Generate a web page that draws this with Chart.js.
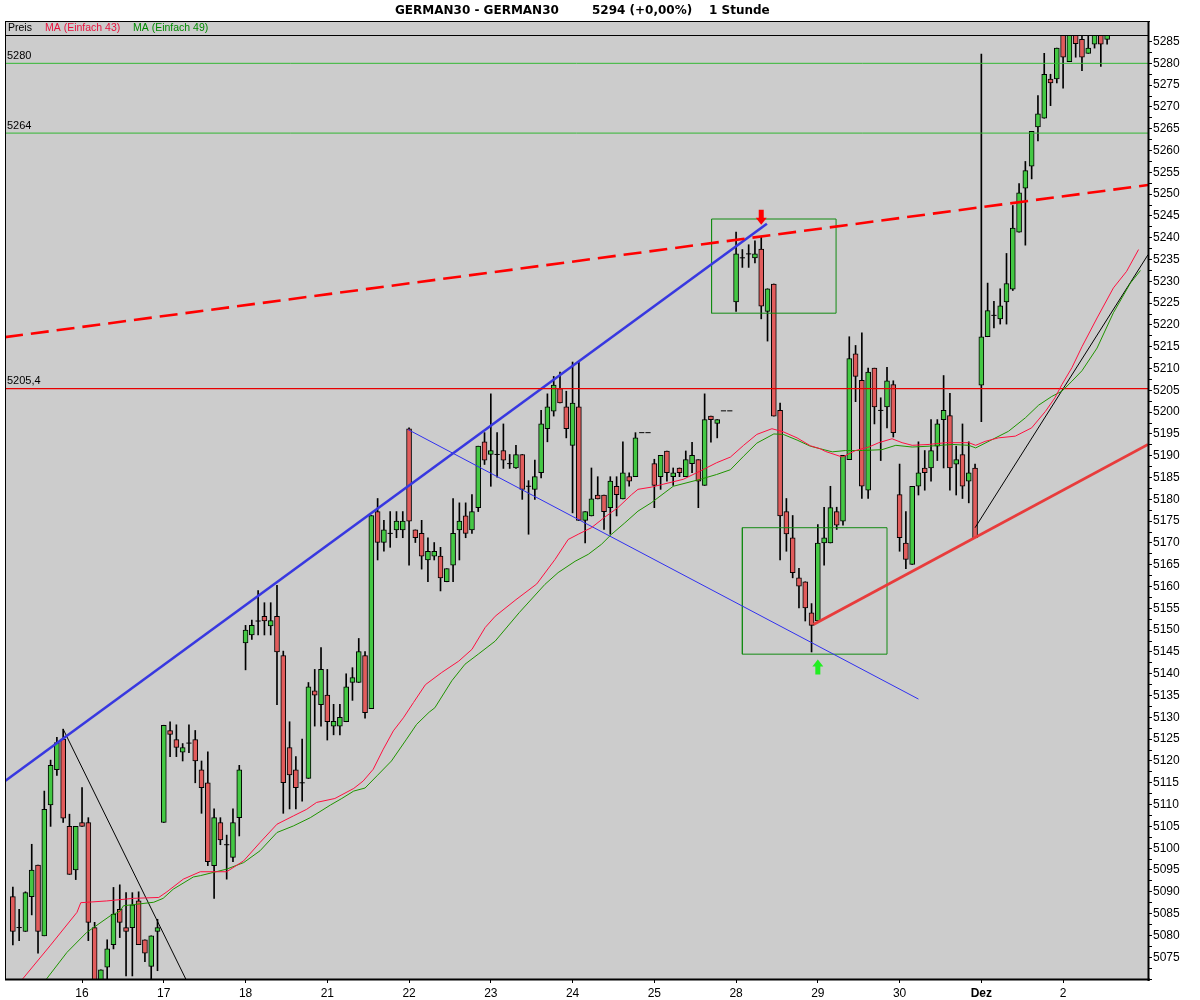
<!DOCTYPE html>
<html>
<head>
<meta charset="utf-8">
<title>GERMAN30 - 1 Stunde</title>
<script src="https://cdn.jsdelivr.net/npm/chart.js@4.4.1/dist/chart.umd.min.js"></script>
<style>
  html, body { margin: 0; padding: 0; background: #fff; }
  canvas { display: block; }
</style>
</head>
<body>
<canvas id="chart" width="1200" height="1000"></canvas>
<script>
// hourly candles, index 0 = first visible hour (15th, afternoon)
const opens = [
  5088.9, 5081.8, 5080.9, 5088.9, 5096.1, 5079.9, 5109.9, 5118.0, 5125.0, 5105.0,
  5095.0, 5105.9, 5105.9, 5081.8, 5068.0, 5072.7, 5077.9, 5086.0, 5081.8, 5081.8,
  5087.9, 5079.0, 5072.9, 5080.9, 5105.9, 5127.0, 5124.9, 5122.0, 5124.1, 5124.9,
  5118.0, 5115.0, 5096.0, 5105.9, 5100.8, 5097.9, 5107.0, 5147.1, 5148.9, 5152.1,
  5153.2, 5151.0, 5153.2, 5144.2, 5123.1, 5118.0, 5115.0, 5116.0, 5136.1, 5132.9,
  5135.1, 5128.0, 5128.0, 5129.0, 5138.0, 5138.0, 5144.2, 5132.0, 5177.2, 5170.1,
  5172.2, 5173.0, 5173.0, 5196.2, 5173.0, 5172.2, 5166.1, 5167.0, 5167.0, 5161.1,
  5164.9, 5173.0, 5176.2, 5173.0, 5178.1, 5193.2, 5190.3, 5190.3, 5191.2, 5188.2,
  5187.2, 5190.3, 5183.0, 5182.3, 5186.1, 5196.2, 5200.2, 5205.4, 5201.2, 5192.4,
  5201.2, 5175.2, 5176.2, 5181.0, 5181.0, 5178.1, 5183.0, 5180.1, 5185.2, 5185.2,
  5195.3, 5195.3, 5188.2, 5185.2, 5191.1, 5185.2, 5187.2, 5185.2, 5188.2, 5189.1,
  5183.2, 5199.1, 5197.4, 5200.3, 5200.3, 5225.3, 5235.4, 5236.3, 5235.4, 5237.4,
  5223.1, 5229.4, 5200.4, 5177.2, 5171.2, 5162.0, 5161.1, 5154.0, 5152.1, 5170.0,
  5170.0, 5177.2, 5175.0, 5189.1, 5213.4, 5207.3, 5182.1, 5210.1, 5200.4, 5201.2,
  5206.3, 5181.1, 5170.0, 5165.1, 5183.0, 5187.2, 5187.2, 5192.2, 5198.3, 5199.2,
  5188.1, 5190.3, 5184.2, 5187.2, 5206.2, 5217.3, 5222.2, 5221.4, 5225.3, 5228.2,
  5241.3, 5251.4, 5256.4, 5265.4, 5267.4, 5276.4, 5276.4, 5288.0, 5280.4, 5287.0,
  5285.5, 5282.3, 5284.4, 5286.5, 5285.5
];
const highs = [
  5091.1, 5086.0, 5090.0, 5100.9, 5096.1, 5113.1, 5120.2, 5125.4, 5127.3, 5107.8,
  5105.0, 5113.9, 5107.0, 5083.0, 5072.1, 5079.0, 5091.0, 5091.6, 5089.8, 5089.8,
  5090.0, 5079.0, 5079.9, 5083.7, 5128.2, 5129.0, 5128.3, 5124.0, 5128.3, 5127.0,
  5120.0, 5122.1, 5109.0, 5107.0, 5103.0, 5109.0, 5119.0, 5151.1, 5152.3, 5159.1,
  5156.3, 5156.3, 5160.3, 5145.2, 5129.0, 5121.0, 5125.0, 5138.0, 5141.0, 5146.0,
  5141.0, 5133.0, 5133.0, 5140.0, 5141.4, 5148.1, 5145.1, 5176.3, 5180.2, 5175.2,
  5177.2, 5177.2, 5177.2, 5196.4, 5173.0, 5175.2, 5171.2, 5170.1, 5169.0, 5164.1,
  5180.2, 5179.2, 5179.2, 5181.1, 5192.2, 5195.3, 5204.2, 5195.3, 5197.3, 5190.3,
  5192.4, 5190.3, 5184.3, 5189.0, 5200.4, 5204.2, 5208.2, 5209.2, 5204.8, 5211.5,
  5211.5, 5177.2, 5187.2, 5185.2, 5181.0, 5185.2, 5185.2, 5193.2, 5186.1, 5195.3,
  5195.3, 5195.3, 5189.2, 5190.1, 5191.1, 5187.2, 5187.2, 5191.1, 5193.1, 5189.1,
  5204.2, 5199.1, 5198.3, 5200.3, 5200.3, 5241.3, 5237.3, 5238.4, 5239.3, 5240.3,
  5228.3, 5229.4, 5202.1, 5180.2, 5176.3, 5164.2, 5161.1, 5156.1, 5174.2, 5178.2,
  5183.0, 5178.2, 5190.1, 5217.3, 5215.3, 5218.2, 5210.1, 5210.1, 5203.3, 5210.3,
  5207.2, 5188.1, 5177.2, 5183.0, 5193.2, 5191.2, 5198.3, 5198.3, 5208.4, 5204.3,
  5192.2, 5197.3, 5193.2, 5188.1, 5282.1, 5229.6, 5225.4, 5228.3, 5236.4, 5247.4,
  5252.4, 5257.5, 5264.4, 5272.6, 5282.3, 5277.5, 5283.5, 5290.0, 5290.0, 5289.0,
  5287.0, 5287.0, 5288.0, 5288.0, 5287.0
];
const lows = [
  5077.8, 5078.8, 5080.9, 5084.7, 5075.9, 5079.9, 5105.0, 5116.7, 5105.9, 5094.0,
  5092.8, 5105.0, 5078.8, 5066.0, 5066.0, 5070.0, 5076.9, 5079.5, 5070.7, 5070.7,
  5077.9, 5074.0, 5069.0, 5071.9, 5105.9, 5121.0, 5121.0, 5120.0, 5121.9, 5115.0,
  5108.0, 5096.0, 5088.5, 5100.8, 5092.9, 5096.9, 5102.8, 5140.9, 5147.9, 5148.9,
  5148.9, 5148.9, 5132.9, 5108.0, 5109.0, 5109.0, 5110.8, 5116.0, 5128.0, 5128.0,
  5124.8, 5126.0, 5126.0, 5129.0, 5133.9, 5138.0, 5129.8, 5132.0, 5166.1, 5168.1,
  5169.0, 5171.2, 5171.2, 5164.9, 5170.1, 5164.0, 5161.1, 5166.1, 5159.0, 5161.1,
  5161.1, 5166.1, 5171.2, 5172.2, 5177.2, 5188.0, 5183.0, 5185.1, 5187.1, 5187.1,
  5187.1, 5180.0, 5172.0, 5180.0, 5184.9, 5193.2, 5199.1, 5202.1, 5194.1, 5176.9,
  5175.2, 5170.0, 5176.2, 5180.1, 5173.1, 5172.0, 5176.2, 5180.1, 5183.0, 5185.2,
  5195.3, 5195.3, 5178.1, 5182.3, 5184.2, 5183.2, 5185.2, 5185.2, 5186.1, 5178.1,
  5183.2, 5193.1, 5194.1, 5200.3, 5200.3, 5223.1, 5233.2, 5233.2, 5234.2, 5221.4,
  5216.3, 5199.1, 5166.1, 5168.1, 5162.0, 5155.1, 5152.1, 5145.0, 5152.1, 5164.9,
  5170.0, 5173.1, 5174.1, 5189.1, 5202.4, 5180.2, 5180.2, 5197.3, 5188.9, 5196.4,
  5194.3, 5168.1, 5164.1, 5165.1, 5181.0, 5182.1, 5184.2, 5188.9, 5187.2, 5182.1,
  5181.0, 5180.2, 5179.2, 5171.2, 5197.8, 5217.3, 5219.3, 5220.2, 5220.2, 5227.9,
  5241.3, 5238.3, 5253.5, 5262.2, 5267.4, 5270.3, 5275.5, 5274.3, 5280.4, 5281.4,
  5278.3, 5282.3, 5283.5, 5279.3, 5284.4
];
const closes = [
  5080.9, 5081.8, 5089.8, 5095.0, 5080.9, 5108.9, 5119.0, 5124.2, 5106.9, 5094.0,
  5105.0, 5105.0, 5083.0, 5068.0, 5072.1, 5076.9, 5084.9, 5083.0, 5080.9, 5087.0,
  5077.9, 5075.9, 5079.9, 5081.8, 5128.2, 5126.1, 5123.1, 5123.1, 5124.1, 5120.0,
  5113.9, 5096.9, 5107.0, 5101.9, 5100.8, 5105.9, 5118.0, 5150.0, 5151.1, 5152.1,
  5152.1, 5152.2, 5145.0, 5115.0, 5116.8, 5113.9, 5115.0, 5137.0, 5135.1, 5141.0,
  5129.0, 5129.1, 5130.0, 5137.0, 5139.1, 5145.1, 5131.1, 5176.3, 5170.1, 5173.0,
  5172.2, 5175.0, 5175.0, 5175.0, 5171.2, 5167.0, 5168.1, 5168.1, 5162.0, 5164.1,
  5172.2, 5175.0, 5172.2, 5177.2, 5192.2, 5189.0, 5191.2, 5190.3, 5189.0, 5188.2,
  5190.3, 5182.3, 5183.0, 5185.2, 5197.3, 5201.2, 5206.2, 5202.1, 5196.2, 5202.1,
  5175.2, 5177.2, 5180.1, 5180.1, 5177.2, 5184.2, 5181.1, 5186.1, 5184.2, 5194.1,
  5195.3, 5195.3, 5183.2, 5190.1, 5186.1, 5186.1, 5186.1, 5189.1, 5190.1, 5184.2,
  5198.3, 5198.3, 5198.3, 5200.3, 5200.3, 5236.3, 5235.4, 5236.3, 5236.3, 5224.3,
  5228.3, 5199.1, 5176.2, 5172.1, 5163.2, 5160.1, 5155.1, 5151.1, 5170.0, 5171.2,
  5178.1, 5174.1, 5190.1, 5212.3, 5208.2, 5183.0, 5209.2, 5201.2, 5200.4, 5207.2,
  5195.3, 5171.2, 5166.2, 5183.0, 5186.1, 5186.1, 5191.2, 5197.3, 5200.4, 5187.2,
  5189.1, 5183.0, 5186.1, 5171.2, 5217.3, 5223.3, 5222.2, 5224.4, 5229.5, 5242.2,
  5250.3, 5255.4, 5264.4, 5268.4, 5277.5, 5275.5, 5283.5, 5281.4, 5288.0, 5284.5,
  5281.4, 5283.5, 5286.5, 5284.4, 5286.5
];

// first candle of each trading day and its axis label
const dayIdx = [11, 24, 37, 50, 63, 76, 89, 102, 115, 128, 141, 154, 167];
const dayLabels = ['16', '17', '18', '21', '22', '23', '24', '25', '28', '29', '30', 'Dez', '2'];

// moving averages: [candle index, value]
const ma43 = [
  [1.0, 5066], [1.6, 5070.1], [5.9, 5077.6], [10.2, 5085.3], [10.8, 5087.5], [14.9, 5087.9],
  [19.2, 5088.5], [23.2, 5088.7], [24.5, 5090.0], [27.1, 5092.9], [29.8, 5094.6], [34.0, 5094.6],
  [36.7, 5097.1], [39.3, 5101.3], [42.0, 5105.5], [44.6, 5107.4], [46.7, 5108.9], [48.3, 5110.5],
  [51.2, 5111.4], [54.2, 5113.7], [55.7, 5115.4], [57.3, 5118.1], [58.9, 5122.7], [60.5, 5126.9],
  [62.1, 5129.9], [63.7, 5133.4], [65.6, 5137.5], [68.2, 5140.3], [70.9, 5142.9], [73.0, 5145.6],
  [75.1, 5150.6], [76.7, 5153.2], [80.0, 5157.0], [83.3, 5160.6], [86.2, 5166.2], [88.3, 5170.8],
  [89.9, 5172.0], [92.0, 5173.5], [94.1, 5175.9], [96.2, 5178.1], [98.4, 5181.1], [99.4, 5182.3],
  [101.5, 5182.8], [103.5, 5183.5], [106.6, 5184.6], [109.3, 5186.5], [111.9, 5188.4], [114.1, 5189.7],
  [116.2, 5192.4], [118.3, 5194.9], [120.7, 5196.2], [122.5, 5195.5], [124.7, 5194.1], [126.8, 5192.3],
  [128.4, 5191.6], [129.2, 5191.0], [131.9, 5189.7], [134.0, 5191.2], [136.1, 5192.0], [137.7, 5193.0],
  [139.8, 5193.9], [141.4, 5193.0], [143.0, 5192.4], [145.7, 5192.6], [148.3, 5193.0], [152.0, 5193.0],
  [153.1, 5192.4], [154.6, 5193.3], [156.7, 5194.1], [159.4, 5194.5], [162.0, 5196.4], [164.2, 5200.2],
  [165.7, 5203.3], [166.8, 5206.3], [168.4, 5210.2], [170.0, 5215.0], [172.4, 5221.6], [175.0, 5228.5],
  [177.1, 5232.3], [179.0, 5237.3]
];
const ma49 = [
  [4.8, 5066], [5.4, 5070.1], [8.6, 5076.1], [11.75, 5080.7], [15.5, 5084.5], [17.0, 5085.5],
  [17.6, 5086.8], [22.4, 5087.6], [23.9, 5088.5], [25.5, 5090.6], [28.7, 5093.4], [29.8, 5093.7],
  [34.0, 5095.2], [36.7, 5096.7], [39.3, 5099.4], [42.0, 5103.6], [44.6, 5105.1], [47.3, 5107.0],
  [50.5, 5109.9], [52.3, 5111.4], [54.2, 5113.1], [56.0, 5113.8], [57.9, 5116.6], [60.2, 5120.0],
  [62.6, 5125.0], [64.2, 5128.4], [66.2, 5131.2], [67.1, 5132.2], [69.8, 5138.4], [71.9, 5142.2],
  [74.0, 5144.5], [76.7, 5147.5], [80.5, 5154.0], [84.6, 5160.5], [86.7, 5163.2], [89.4, 5165.8],
  [91.5, 5167.4], [93.6, 5169.7], [95.2, 5172.0], [97.3, 5174.6], [99.4, 5177.3], [101.5, 5179.2],
  [105.0, 5183.0], [109.3, 5184.6], [111.9, 5185.7], [114.1, 5186.8], [116.2, 5189.9], [118.3, 5192.9],
  [121.0, 5195.0], [122.5, 5194.9], [124.7, 5193.6], [126.8, 5192.2], [128.4, 5191.6], [130.3, 5190.9],
  [132.4, 5191.2], [135.1, 5191.2], [138.2, 5191.4], [140.4, 5192.4], [143.0, 5192.0], [145.7, 5192.2],
  [149.4, 5192.6], [152.0, 5192.4], [153.1, 5191.8], [155.7, 5193.7], [158.3, 5195.6], [161.0, 5198.7],
  [163.1, 5201.6], [165.2, 5203.6], [166.8, 5204.8], [168.4, 5207.1], [170.0, 5209.5], [172.4, 5214.7],
  [175.0, 5222.8], [177.7, 5229.6], [179.3, 5232.5]
];

// drawn trend lines: [candle index, price]
const blueUpper = [[-1.24, 5115.4], [119.9, 5243.2]];
const blueLower = [[62.85, 5196.0], [144.0, 5134.2]];
const redDashed = [[-1.24, 5217.2], [180.5, 5252.1]];
const redSupport = [[127.3, 5151.3], [180.5, 5192.6]];
const blackDown = [[8.0, 5127.3], [30.9, 5060.0]];
const blackUp = [[153.0, 5173.5], [180.5, 5236.1]];
const boxTop = [111.1, 130.9, 5222.7, 5244.3];     // x1, x2, y1, y2
const boxBottom = [116.0, 139.0, 5144.5, 5173.5];
const levelValues = [5280, 5264, 5205.4];
const levelLabels = ['5280', '5264', '5205,4'];
const redArrow = [119, 5243.0];
const greenArrow = [128, 5143.3];

const X_MIN = -1.25, X_MAX = 180.5;
const Y_MIN = 5070, Y_MAX = 5286.5, Y_TOP_TICK = 5285;
const FONT = 'Liberation Sans, Arial, sans-serif';
const GREEN = '#44c844';
const RED = '#e15c5c';

const bodyData = [], bodyColors = [], wickData = [], dojiData = [];
for (let i = 0; i < opens.length; i++) {
  const o = opens[i], c = closes[i];
  if (highs[i] > lows[i]) wickData.push({ x: i, y: [lows[i], highs[i]] });
  if (o === c) {
    dojiData.push({ x: i, y: o });
  } else {
    bodyData.push({ x: i, y: [o, c] });
    bodyColors.push(c > o ? GREEN : RED);
  }
}

const pts = arr => arr.map(p => ({ x: p[0], y: p[1] }));
const boxPts = b => [
  { x: b[0], y: b[2] }, { x: b[1], y: b[2] }, { x: b[1], y: b[3] }, { x: b[0], y: b[3] }, { x: b[0], y: b[2] }
];
const levelPts = v => [{ x: X_MIN, y: v }, { x: X_MAX, y: v }];

function lineSet(data, color, width, extra) {
  return Object.assign({
    type: 'line', data: data, borderColor: color, borderWidth: width,
    pointRadius: 0, fill: false, tension: 0, clip: 0, order: 0
  }, extra || {});
}

function drawArrow(ctx, x, y, dir, color) {
  // dir 1 = pointing down (tip at y), -1 = pointing up
  ctx.fillStyle = color;
  ctx.beginPath();
  ctx.moveTo(x, y);
  ctx.lineTo(x - 5.5, y - dir * 7);
  ctx.lineTo(x - 2.5, y - dir * 7);
  ctx.lineTo(x - 2.5, y - dir * 15);
  ctx.lineTo(x + 2.5, y - dir * 15);
  ctx.lineTo(x + 2.5, y - dir * 7);
  ctx.lineTo(x + 5.5, y - dir * 7);
  ctx.closePath();
  ctx.fill();
}

const decor = {
  id: 'decor',
  beforeDraw(chart) {
    const { ctx, chartArea: a } = chart;
    ctx.save();
    ctx.fillStyle = '#ffffff';
    ctx.fillRect(0, 0, chart.width, chart.height);
    ctx.fillStyle = '#cccccc';
    ctx.fillRect(a.left, 21, a.right - a.left, a.bottom - 21);
    ctx.restore();
  },
  afterDatasetsDraw(chart) {
    const { ctx, chartArea: a } = chart;
    const xs = chart.scales.x, ys = chart.scales.y;
    ctx.save();
    drawArrow(ctx, xs.getPixelForValue(redArrow[0]), ys.getPixelForValue(redArrow[1]), 1, '#ff0000');
    drawArrow(ctx, xs.getPixelForValue(greenArrow[0]), ys.getPixelForValue(greenArrow[1]), -1, '#22ee22');
    ctx.fillStyle = '#000';
    ctx.font = '11px ' + FONT;
    ctx.textAlign = 'left';
    ctx.textBaseline = 'bottom';
    levelValues.forEach((v, k) => {
      ctx.fillText(levelLabels[k], a.left + 2, ys.getPixelForValue(v) - 2);
    });
    ctx.restore();
  },
  afterDraw(chart) {
    const { ctx, chartArea: a } = chart;
    ctx.save();
    ctx.fillStyle = '#000';
    // frame
    ctx.fillRect(a.left, 21, a.right - a.left + 2, 1);
    ctx.fillRect(a.left, 35, a.right - a.left, 1);
    ctx.fillRect(a.left, 21, 1, a.bottom - 21);
    ctx.fillRect(a.left, a.bottom - 0.5, a.right - a.left + 2, 2);
    ctx.fillRect(a.right - 0.5, 21, 2, a.bottom - 19);
    // title
    ctx.font = 'bold 12px DejaVu Sans, sans-serif';
    ctx.textBaseline = 'middle';
    ctx.textAlign = 'left';
    ctx.fillText('GERMAN30 - GERMAN30', 395, 10.5);
    ctx.fillText('5294 (+0,00%)', 592, 10.5);
    ctx.fillText('1 Stunde', 709, 10.5);
    // legend row
    ctx.font = '10.5px ' + FONT;
    ctx.fillText('Preis', a.left + 3, 28.5);
    ctx.fillStyle = '#e8103c';
    ctx.fillText('MA (Einfach 43)', 45, 28.5);
    ctx.fillStyle = '#008a00';
    ctx.fillText('MA (Einfach 49)', 133, 28.5);
    ctx.restore();
  }
};

new Chart(document.getElementById('chart'), {
  type: 'bar',
  data: {
    datasets: [
      lineSet(pts(ma43), '#ff1040', 1),
      lineSet(pts(ma49), '#1f9400', 1),
      lineSet(levelPts(levelValues[0]), '#33b833', 1),
      lineSet(levelPts(levelValues[1]), '#33b833', 1),
      lineSet(levelPts(levelValues[2]), '#e80000', 1.2),
      lineSet(pts(redDashed), '#ff0000', 2.6, { borderDash: [18, 8] }),
      lineSet(pts(blueUpper), '#3838e0', 2.6),
      lineSet(pts(blueLower), '#3030f0', 1),
      lineSet(pts(redSupport), '#e83c3c', 2.8),
      lineSet(pts(blackDown), '#000000', 1),
      lineSet(pts(blackUp), '#000000', 1),
      lineSet(boxPts(boxTop), '#138a13', 1),
      lineSet(boxPts(boxBottom), '#138a13', 1),
      {
        type: 'line', data: dojiData, showLine: false, pointStyle: 'line',
        pointRadius: 2.6, pointBorderWidth: 1, pointBorderColor: '#000', clip: 0, order: 1
      },
      {
        type: 'bar', data: bodyData, backgroundColor: bodyColors, borderColor: '#000',
        borderWidth: 1, borderSkipped: false, barThickness: 5, grouped: false, clip: 0, order: 2
      },
      {
        type: 'bar', data: wickData, backgroundColor: '#000', borderWidth: 0,
        barThickness: 1, grouped: false, clip: 0, order: 3
      }
    ]
  },
  options: {
    responsive: false,
    animation: false,
    devicePixelRatio: 1,
    layout: { padding: { left: 5, top: 35, right: 0, bottom: 0 } },
    plugins: { legend: { display: false }, tooltip: { enabled: false } },
    scales: {
      x: {
        type: 'linear', min: X_MIN, max: X_MAX, offset: false,
        afterBuildTicks: axis => { axis.ticks = dayIdx.map(v => ({ value: v })); },
        afterFit: scale => { scale.height = 21; },
        border: { display: false },
        grid: { offset: false, drawOnChartArea: false, drawTicks: true, tickLength: 4, color: '#000' },
        ticks: {
          autoSkip: false, maxRotation: 0, padding: 3, color: '#000',
          font: c => ({ family: FONT, size: 12, weight: c.tick && c.tick.label === 'Dez' ? 'bold' : 'normal' }),
          callback: v => { const k = dayIdx.indexOf(v); return k >= 0 ? dayLabels[k] : ''; }
        }
      },
      y: {
        type: 'linear', position: 'right', min: Y_MIN, max: Y_MAX, beginAtZero: false,
        afterBuildTicks: axis => {
          const t = [];
          for (let k = 0; Y_MIN + k * 2.5 <= Y_TOP_TICK; k++) t.push({ value: Y_MIN + k * 2.5 });
          axis.ticks = t;
        },
        afterFit: scale => { scale.width = 52; },
        border: { display: false },
        grid: { drawOnChartArea: false, drawTicks: true, tickLength: 4, color: '#000' },
        ticks: {
          autoSkip: false, padding: 1, color: '#000',
          font: { family: FONT, size: 12 },
          callback: v => (v % 5 === 0 && v >= 5075) ? String(v) : ''
        }
      }
    }
  },
  plugins: [decor]
});
</script>
</body>
</html>
